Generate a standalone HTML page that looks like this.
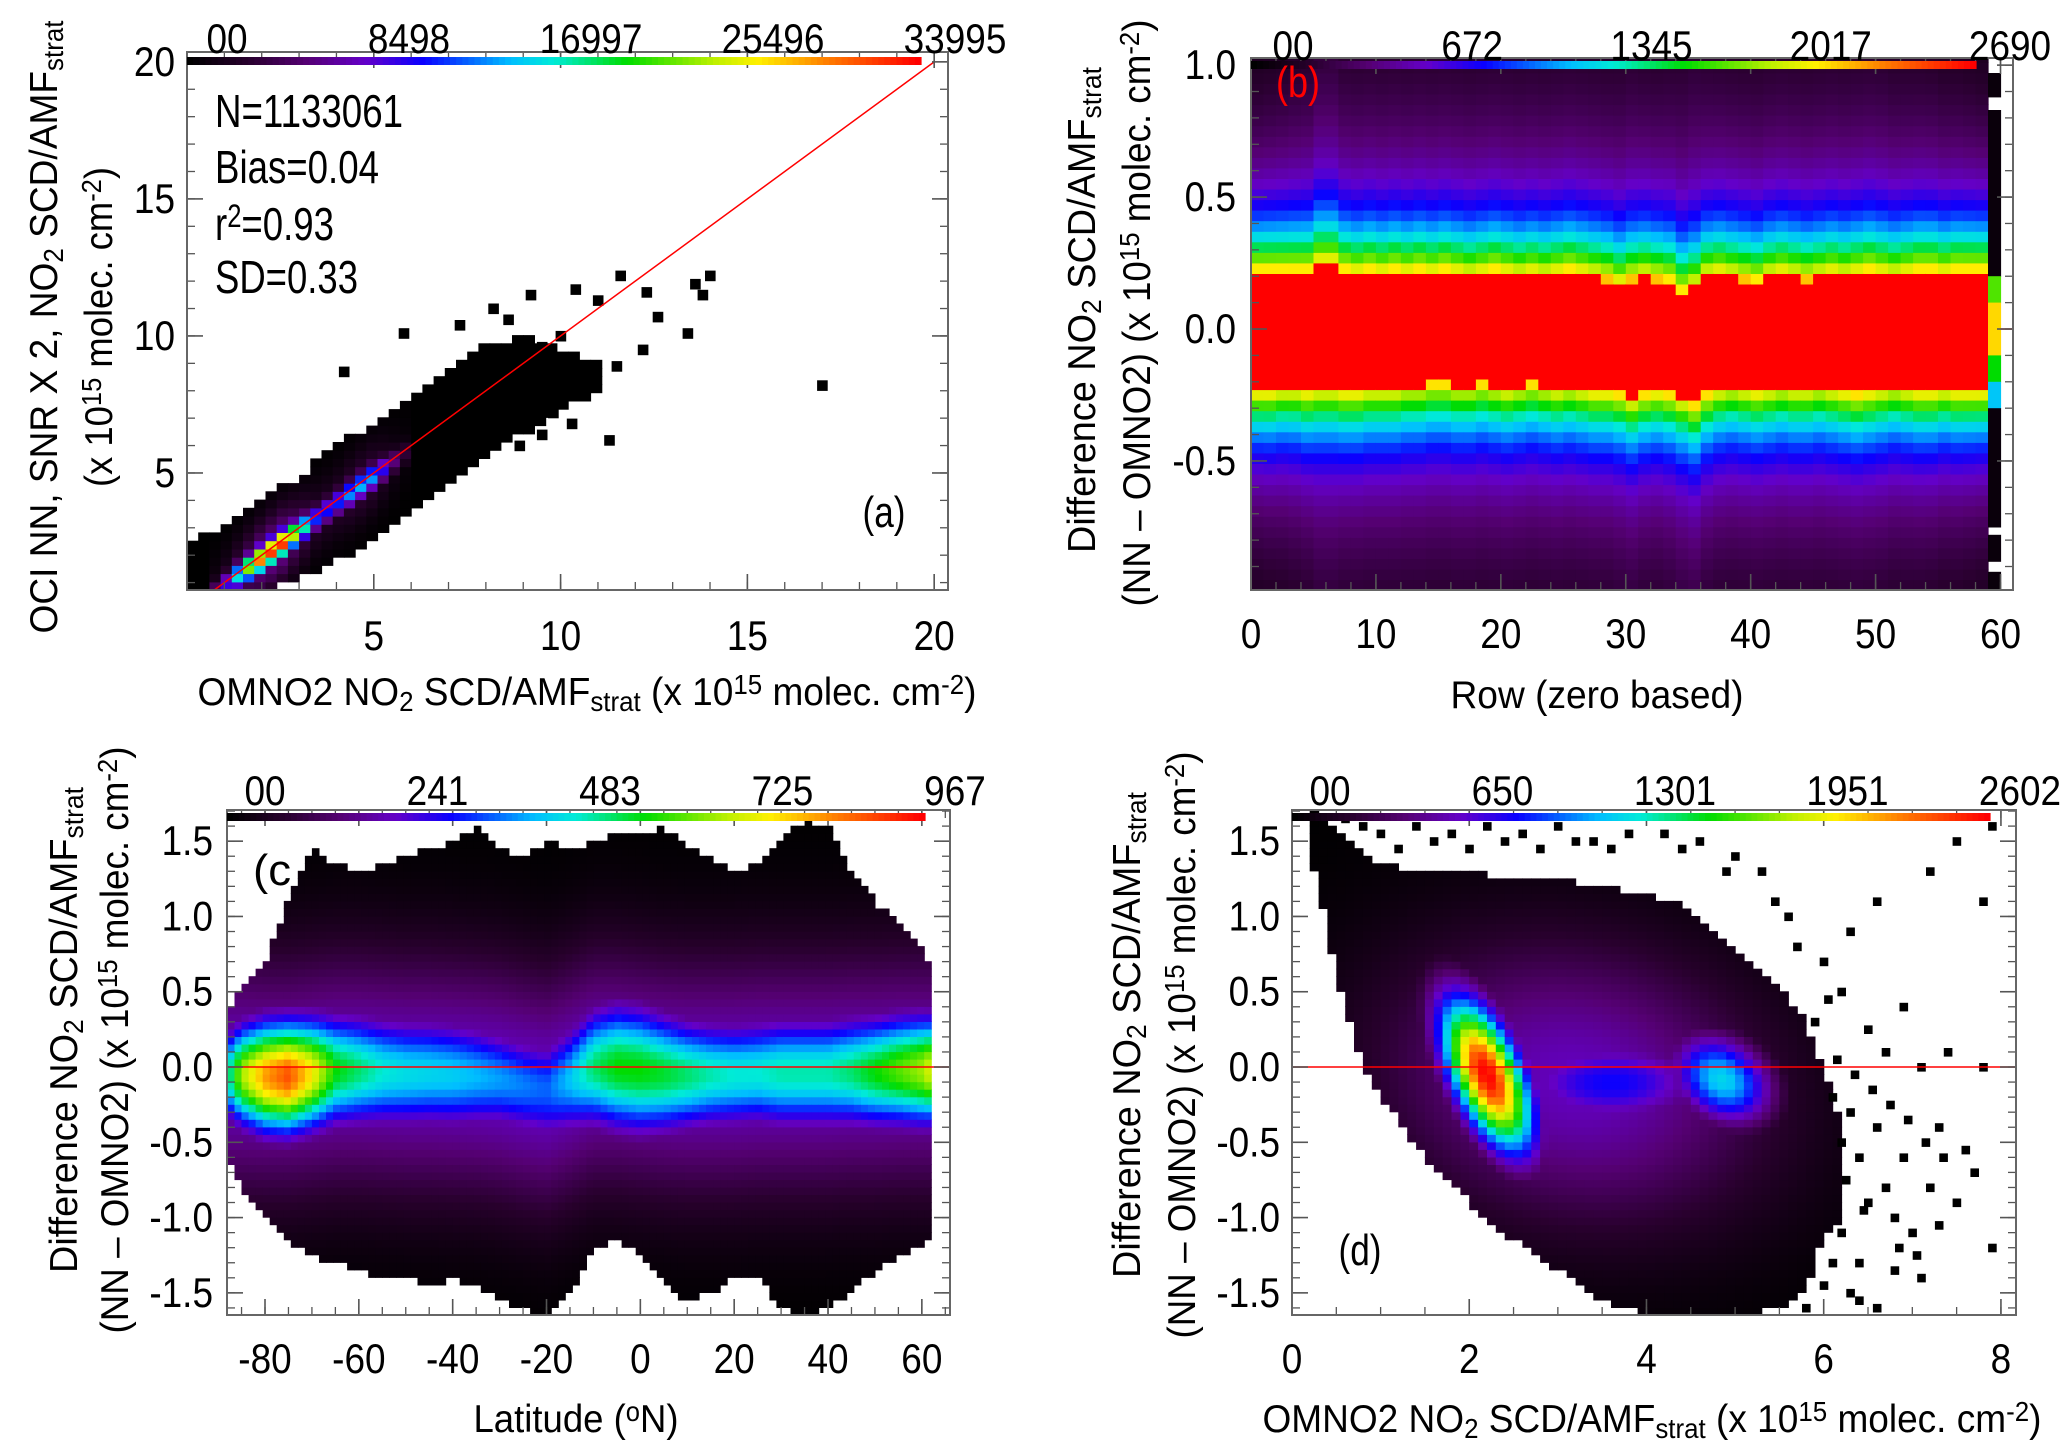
<!DOCTYPE html>
<html><head><meta charset="utf-8"><style>
html,body{margin:0;padding:0;background:#fff;}
svg{display:block;font-family:"Liberation Sans",sans-serif;}
</style></head><body>
<svg id="fig" width="2067" height="1455" viewBox="0 0 2067 1455" xmlns="http://www.w3.org/2000/svg"></svg>
<script>
// ---------- Panel (a) data ----------
const aX   = [0,0.5,1,1.5,2,3,4,5,6,7,8,9,10,11];
const aTop = [2.6,2.8,3.1,3.5,4.0,4.9,6.0,6.8,7.8,8.8,9.7,10.0,9.6,9.0];
const aBot = [0.9,0.8,0.7,0.7,0.75,1.1,1.8,2.6,3.6,4.6,5.6,6.4,7.2,8.0];
const aCoreX = [0.5,1,1.5,2,2.5,3,3.5,4,4.5,5,5.5,6];
const aCorePeak = [0.08,0.25,0.6,0.92,1.0,0.62,0.32,0.33,0.45,0.42,0.18,0.05];
const aPtX = [4.2,5.8,7.3,8.6,8.2,9.2,10.4,11.0,11.6,12.3,13.6,14.0,12.6,13.4,17.0,10.9,12.2,11.5,9.8,10.3,11.3,8.9,9.5,13.8,10.0,9.5];
const aPtY = [8.7,10.1,10.4,10.6,11.0,11.5,11.7,11.3,12.2,11.6,11.9,12.2,10.7,10.1,8.2,8.3,9.5,8.9,7.2,6.8,6.2,6.0,6.4,11.5,10.0,9.6];
const aStats = ["N=1133061","Bias=0.04","r²=0.93","SD=0.33"];
const aCbLabels = ["00","8498","16997","25496","33995"];

// ---------- Panel (b) data ----------
const bEdgeUp = [0.22,0.22,0.22,0.22,0.22,0.25,0.25,0.22,0.21,0.22,
 0.21,0.22,0.21,0.22,0.21,0.22,0.21,0.20,0.21,0.22,
 0.21,0.20,0.21,0.20,0.21,0.22,0.21,0.20,0.19,0.17,
 0.19,0.20,0.19,0.18,0.14,0.16,0.20,0.21,0.20,0.19,
 0.18,0.20,0.21,0.20,0.19,0.20,0.21,0.20,0.21,0.22,
 0.21,0.20,0.21,0.22,0.22,0.21,0.22,0.22,0.22];
const bEdgeLo = [-0.23,-0.23,-0.22,-0.22,-0.23,-0.22,-0.22,-0.23,-0.23,-0.22,
 -0.22,-0.22,-0.21,-0.21,-0.20,-0.20,-0.21,-0.21,-0.20,-0.21,
 -0.22,-0.21,-0.20,-0.21,-0.22,-0.21,-0.22,-0.23,-0.23,-0.24,
 -0.26,-0.24,-0.23,-0.24,-0.26,-0.28,-0.24,-0.22,-0.21,-0.22,
 -0.23,-0.22,-0.21,-0.22,-0.22,-0.21,-0.22,-0.23,-0.24,-0.23,
 -0.22,-0.21,-0.22,-0.23,-0.23,-0.22,-0.23,-0.23,-0.23];
const bSpread = [0.48,0.5,0.52,0.55,0.57,0.65,0.65,0.6,0.6,0.6,
 0.6,0.6,0.6,0.6,0.6,0.6,0.6,0.6,0.6,0.6,
 0.6,0.6,0.6,0.6,0.6,0.6,0.6,0.6,0.6,0.62,
 0.63,0.6,0.6,0.62,0.66,0.68,0.62,0.6,0.6,0.6,
 0.6,0.6,0.6,0.6,0.6,0.6,0.6,0.6,0.6,0.6,
 0.6,0.58,0.57,0.56,0.55,0.53,0.52,0.5,0.48];
const b59Lo  = [0.88,0.20,0.10,-0.10,-0.20,-0.30,-0.75,-0.88,-0.99];
const b59Hi  = [0.97,0.83,0.20,0.10,-0.10,-0.20,-0.30,-0.78,-0.92];
const b59Lev = [0.02,0.02,0.65,0.8,0.6,0.45,0.02,0.02,0.02];
const bCbLabels = ["00","672","1345","2017","2690"];

// ---------- Panel (c) data ----------
const cLat = [-88,-85,-80,-75,-70,-65,-60,-55,-50,-45,-40,-35,-30,-25,-20,-15,-10,-5,0,5,10,15,20,25,30,35,40,45,50,55,60,62];
const cTop = [0.35,0.55,0.7,1.1,1.45,1.35,1.3,1.35,1.4,1.45,1.5,1.6,1.45,1.4,1.5,1.45,1.5,1.55,1.55,1.6,1.45,1.4,1.3,1.35,1.5,1.65,1.6,1.3,1.1,0.95,0.8,0.65];
const cBot = [-0.6,-0.8,-1.0,-1.15,-1.25,-1.3,-1.35,-1.4,-1.4,-1.45,-1.4,-1.45,-1.55,-1.6,-1.65,-1.5,-1.2,-1.15,-1.25,-1.45,-1.55,-1.5,-1.4,-1.4,-1.6,-1.65,-1.6,-1.5,-1.35,-1.25,-1.2,-1.1];
const cPeak = [0.5,0.7,0.85,0.92,0.78,0.6,0.55,0.5,0.48,0.47,0.46,0.44,0.42,0.4,0.38,0.45,0.55,0.6,0.6,0.58,0.55,0.52,0.5,0.5,0.52,0.52,0.52,0.55,0.6,0.65,0.7,0.75];
const cCenter = [-0.05,-0.05,-0.06,-0.06,-0.04,-0.02,-0.02,-0.03,-0.04,-0.04,-0.05,-0.06,-0.08,-0.12,-0.15,-0.08,0.0,0.0,-0.02,-0.04,-0.05,-0.05,-0.05,-0.04,-0.04,-0.04,-0.04,-0.03,-0.03,-0.02,-0.02,-0.02];
const cWidth = [0.22,0.24,0.26,0.26,0.26,0.26,0.26,0.26,0.26,0.26,0.26,0.25,0.24,0.24,0.25,0.26,0.28,0.3,0.3,0.28,0.26,0.25,0.25,0.25,0.26,0.26,0.26,0.26,0.26,0.26,0.26,0.25];
const cCbLabels = ["00","241","483","725","967"];

// ---------- Panel (d) data ----------
const dX   = [0.25,0.4,0.6,0.8,1.0,1.5,2.0,2.5,3.0,3.5,4.0,4.5,5.0,5.5,5.8,6.0,6.2];
const dTop = [1.7,1.65,1.55,1.45,1.35,1.3,1.3,1.25,1.25,1.2,1.15,1.05,0.8,0.55,0.3,0.0,-0.4];
const dBot = [1.3,0.9,0.4,0.0,-0.2,-0.6,-0.9,-1.15,-1.35,-1.55,-1.65,-1.65,-1.65,-1.6,-1.5,-1.1,-1.0];
const dBlobX = [2.2,4.85,3.6,3.2];
const dBlobY = [-0.05,-0.08,-0.1,-0.1];
const dBlobAmp = [1.0,0.47,0.32,0.23];
const dBlobSX = [0.42,0.55,1.2,2.2];
const dBlobSY = [0.5,0.3,0.3,0.95];
const dBlobTilt = [0.6,0.5,0.0,0.3];
const dPtX = [6.1,6.2,6.3,6.4,6.5,6.6,6.2,6.4,6.7,6.8,6.9,7.0,7.2,7.3,7.5,7.7,7.9,6.5,6.7,6.9,7.1,7.4,7.8,6.2,6.0,6.3,6.6,7.2,7.5,7.8,7.9,5.6,5.3,5.0,4.6,4.2,3.8,3.4,3.0,2.6,2.2,1.8,1.4,1.0,0.6,6.3,6.0,5.8,7.1,6.6,
  6.15,6.35,6.55,6.75,6.95,7.15,7.35,7.6,6.25,6.45,6.85,7.05,5.9,6.05,5.7,5.45,4.9,4.4,3.6,3.2,2.8,2.4,2.0,1.6,1.2,0.8,6.1,6.4,6.8,7.3];
const dPtY = [-0.2,-0.5,-0.3,-0.6,-0.9,-0.4,-1.1,-1.3,-0.8,-1.0,-0.6,-1.1,-0.8,-0.4,-0.9,-0.7,-1.2,0.25,0.1,0.4,0.0,0.1,0.0,0.5,0.7,0.9,1.1,1.3,1.5,1.1,1.6,1.0,1.3,1.4,1.5,1.55,1.55,1.5,1.6,1.55,1.6,1.55,1.6,1.55,1.65,-1.5,-1.45,-1.6,-1.4,-1.6,
  0.05,-0.05,-0.15,-0.25,-0.35,-0.5,-0.6,-0.55,-0.75,-0.95,-1.2,-1.25,0.3,0.45,0.8,1.1,1.3,1.45,1.45,1.5,1.45,1.5,1.45,1.5,1.45,1.6,-1.3,-1.55,-1.35,-1.05];
const dCbLabels = ["00","650","1301","1951","2602"];

// ---------- helpers ----------
const STOPS=[[0,0,0,0],[0.08,40,0,45],[0.16,85,0,115],[0.24,100,0,200],[0.32,10,0,255],[0.44,0,190,255],[0.5,0,235,215],[0.6,0,220,0],[0.72,190,240,0],[0.78,255,240,0],[0.88,255,120,0],[1,255,0,0]];
function cmap(t){t=Math.max(0,Math.min(1,t));for(let i=1;i<STOPS.length;i++){if(t<=STOPS[i][0]){const a=STOPS[i-1],b=STOPS[i],f=(t-a[0])/(b[0]-a[0]);return `rgb(${Math.round(a[1]+f*(b[1]-a[1]))},${Math.round(a[2]+f*(b[2]-a[2]))},${Math.round(a[3]+f*(b[3]-a[3]))})`;}}return 'rgb(255,0,0)';}
function interp(xs,ys,x){if(x<xs[0]||x>xs[xs.length-1])return null;for(let i=1;i<xs.length;i++){if(x<=xs[i]){const f=(x-xs[i-1])/(xs[i]-xs[i-1]);return ys[i-1]+f*(ys[i]-ys[i-1]);}}return ys[ys.length-1];}
function mkPanel(px0,px1,py0,py1,xmin,xmax,ymin,ymax){return {px0,px1,py0,py1,xmin,xmax,ymin,ymax,
  sx:v=>px0+(v-xmin)/(xmax-xmin)*(px1-px0), sy:v=>py1-(v-ymin)/(ymax-ymin)*(py1-py0)};}
let out=[];
function rect(x,y,w,h,fill,name){out.push(`<rect x="${x.toFixed(1)}" y="${y.toFixed(1)}" width="${(w+0.6).toFixed(1)}" height="${(h+0.6).toFixed(1)}" fill="${fill}"/>`);}
function txt(x,y,inner,size,anchor,rot,name,len,fill){
  const tl=len?` textLength="${len}" lengthAdjust="spacingAndGlyphs"`:'';
  const sc=len?'':' scale(0.88,1)';
  out.push(`<text transform="translate(${x},${y}) rotate(${rot||0})${sc}" font-size="${size}" text-anchor="${anchor}" fill="${fill||'#000'}"${tl}>${inner}</text>`);}
const SUB=s=>`<tspan baseline-shift="-22%" font-size="70%">${s}</tspan>`;
const SUP=s=>`<tspan baseline-shift="40%" font-size="70%">${s}</tspan>`;
const UNITS=`(x 10${SUP('15')} molec. cm${SUP('-2')})`;
function axes(P,xMaj,xMin,xLab,yMaj,yMin,yLab,xLabY,yLabX,key){
  const st='stroke="#555"';
  for(const v of xMin){const x=P.sx(v);out.push(`<line x1="${x}" x2="${x}" y1="${P.py1}" y2="${P.py1-8}" ${st} stroke-width="1.3"/><line x1="${x}" x2="${x}" y1="${P.py0}" y2="${P.py0+8}" ${st} stroke-width="1.3"/>`);}
  for(const v of yMin){const y=P.sy(v);out.push(`<line x1="${P.px0}" x2="${P.px0+8}" y1="${y}" y2="${y}" ${st} stroke-width="1.3"/><line x1="${P.px1}" x2="${P.px1-8}" y1="${y}" y2="${y}" ${st} stroke-width="1.3"/>`);}
  xMaj.forEach((v,i)=>{const x=P.sx(v);out.push(`<line x1="${x}" x2="${x}" y1="${P.py1}" y2="${P.py1-16}" ${st} stroke-width="1.6"/><line x1="${x}" x2="${x}" y1="${P.py0}" y2="${P.py0+16}" ${st} stroke-width="1.6"/>`);txt(x,xLabY,xLab[i],42,'middle',0,key+'-x-tick-label');});
  yMaj.forEach((v,i)=>{const y=P.sy(v);out.push(`<line x1="${P.px0}" x2="${P.px0+16}" y1="${y}" y2="${y}" ${st} stroke-width="1.6"/><line x1="${P.px1}" x2="${P.px1-16}" y1="${y}" y2="${y}" ${st} stroke-width="1.6"/>`);txt(yLabX,y+14,yLab[i],42,'end',0,key+'-y-tick-label');});
  out.push(`<rect x="${P.px0}" y="${P.py0}" width="${P.px1-P.px0}" height="${P.py1-P.py0}" fill="none" stroke="#666" stroke-width="2"/>`);
}
function colorbar(x0,x1,y0,h,labels,lx0,lx1,ly,key){
  const n=120;for(let i=0;i<n;i++){const w=(x1-x0)/n;out.push(`<rect x="${(x0+i*w).toFixed(1)}" y="${y0}" width="${(w+0.6).toFixed(1)}" height="${h}" fill="${cmap(i/(n-1))}"/>`);}
  labels.forEach((l,i)=>txt(lx0+i*(lx1-lx0)/(labels.length-1),ly,l,42,'middle',0,key+'-colorbar-label'));
}
function range(a,b,s){const r=[];for(let v=a;v<=b+1e-9;v+=s)r.push(+v.toFixed(4));return r;}

// ================= Panel (a) =================
const PA=mkPanel(187,948,52,590,0,20.37,0.73,20.36);
{const step=0.3;
 for(let x=0;x<PA.xmax;x+=step){for(let y=PA.ymin;y<PA.ymax;y+=step){
  const cx=x+step/2,cy=y+step/2;const tp=interp(aX,aTop,cx),bt=interp(aX,aBot,cx);
  if(tp===null||cy>tp||cy<bt)continue;
  const pk=interp(aCoreX,aCorePeak,cx)||0;const d=(cy-(cx-0.1))/Math.SQRT2;
  const t=Math.max(pk*Math.exp(-Math.pow(d/0.33,2)),0.22*pk*Math.exp(-Math.pow(d/0.9,2)));
  const x0=PA.sx(x),x1=PA.sx(Math.min(x+step,PA.xmax)),y0=PA.sy(Math.min(y+step,PA.ymax)),y1=PA.sy(y);
  rect(x0,y0,x1-x0,y1-y0,cmap(t),'a-heat-cell');}}
 aPtX.forEach((px,i)=>{rect(PA.sx(px)-5,PA.sy(aPtY[i])-5,10,10,'#000','a-outlier-point');});
 const l0=PA.ymin, l1=20;
 out.push(`<line x1="${PA.sx(l0)}" y1="${PA.sy(l0)}" x2="${PA.sx(l1)}" y2="${PA.sy(l1)}" stroke="#ff0000" stroke-width="1.5"/>`);
}
axes(PA,[5,10,15,20],range(1,20,1),["5","10","15","20"],[5,10,15,20],range(1,20,1),["5","10","15","20"],650,175,'a');
colorbar(187,921,57,8,aCbLabels,227,955,53,'a');
const aStatY=[127,183,240,293],aStatLen=[188,164,119,143];
aStats.forEach((s,i)=>txt(215,aStatY[i],s.replace('²',SUP('2')),46,'start',0,'a-stat-text',aStatLen[i]));
txt(884,527,'(a)',44,'middle',0,'a-panel-label',43);
txt(587,705,`OMNO2 NO${SUB('2')} SCD/AMF${SUB('strat')} ${UNITS}`,39,'middle',0,'a-x-axis-title',779);
txt(57,327,`OCI NN, SNR X 2, NO${SUB('2')} SCD/AMF${SUB('strat')}`,39,'middle',-90,'a-y-axis-title',613);
txt(112,327,UNITS,39,'middle',-90,'a-y-axis-units',320);

// ================= Panel (b) =================
const PB=mkPanel(1251,2013,58,590,0,61,-0.989,1.027);
{const step=0.04;
 for(let c=0;c<59;c++){const up=bEdgeUp[c]??0.22,lo=bEdgeLo[c]??-0.22,sp=bSpread[c]??0.6;
  for(let y=PB.ymin;y<PB.ymax;y+=step){const cy=y+step/2;let t;
   if(cy<=up&&cy>=lo)t=1;else{const d=cy>up?cy-up:lo-cy;t=0.52*Math.exp(-d/0.18)+0.3*Math.exp(-d/sp);}
   const x0=PB.sx(c),x1=PB.sx(c+1),y0=PB.sy(Math.min(y+step,PB.ymax)),y1=PB.sy(y);
   rect(x0,y0,x1-x0,y1-y0,cmap(t),'b-heat-cell');}}
 b59Lo.forEach((lo,i)=>{const x0=PB.sx(59),x1=PB.sx(60),y0=PB.sy(b59Hi[i]),y1=PB.sy(lo);rect(x0,y0,x1-x0,y1-y0,cmap(b59Lev[i]),'b-edge-row-cell');});
 out.push(`<line x1="${PB.sx(60)}" x2="${PB.px1}" y1="${PB.sy(0)}" y2="${PB.sy(0)}" stroke="#ff0000" stroke-width="1.5"/>`);
}
axes(PB,[0,10,20,30,40,50,60],range(0,60,2),["0","10","20","30","40","50","60"],[-0.5,0,0.5,1.0],range(-0.9,1.0,0.1),["-0.5","0.0","0.5","1.0"],648,1236,'b');
colorbar(1251,1976,61,8,bCbLabels,1293,2010,60,'b');
txt(1298,97,'(b)',44,'middle',0,'b-panel-label',44,'#ff0000');
txt(1597,708,'Row (zero based)',39,'middle',0,'b-x-axis-title',293);
txt(1095,310,`Difference NO${SUB('2')} SCD/AMF${SUB('strat')}`,39,'middle',-90,'b-y-axis-title',486);
txt(1150,313,`(NN – OMNO2) ${UNITS}`,39,'middle',-90,'b-y-axis-units',587);

// ================= Panel (c) =================
const PC=mkPanel(227,950,810,1315,-88.1,66.0,-1.647,1.707);
{const sx=1.5,sy=0.05;
 for(let x=-88;x<62.5;x+=sx){const cx=x+sx/2;const tp=interp(cLat,cTop,cx),bt=interp(cLat,cBot,cx);if(tp===null)continue;
  const pk=interp(cLat,cPeak,cx),ce=interp(cLat,cCenter,cx),w=interp(cLat,cWidth,cx);
  for(let y=PC.ymin;y<PC.ymax;y+=sy){const cy=y+sy/2;if(cy>tp||cy<bt)continue;
   const t=Math.max(pk*Math.exp(-0.5*Math.pow((cy-ce)/w,2)),0.24*Math.exp(-Math.pow((cy-ce)/0.8,2)));
   const x0=PC.sx(x),x1=PC.sx(x+sx),y0=PC.sy(Math.min(y+sy,PC.ymax)),y1=PC.sy(y);
   rect(x0,y0,x1-x0,y1-y0,cmap(t),'c-heat-cell');}}
 out.push(`<line x1="${PC.px0}" x2="${PC.px1}" y1="${PC.sy(0)}" y2="${PC.sy(0)}" stroke="#ff0000" stroke-width="1.5"/>`);
}
axes(PC,[-80,-60,-40,-20,0,20,40,60],range(-85,65,5),["-80","-60","-40","-20","0","20","40","60"],[-1.5,-1,-0.5,0,0.5,1,1.5],range(-1.6,1.7,0.1),["-1.5","-1.0","-0.5","0.0","0.5","1.0","1.5"],1373,213,'c');
colorbar(227,925,813,8,cCbLabels,265,955,805,'c');
txt(272,885,'(c',44,'middle',0,'c-panel-label',38);
txt(576,1432,'Latitude (<tspan baseline-shift="40%" font-size="70%">o</tspan>N)',39,'middle',0,'c-x-axis-title',205);
txt(77,1030,`Difference NO${SUB('2')} SCD/AMF${SUB('strat')}`,39,'middle',-90,'c-y-axis-title',486);
txt(128,1040,`(NN – OMNO2) ${UNITS}`,39,'middle',-90,'c-y-axis-units',587);

// ================= Panel (d) =================
const PD=mkPanel(1292,2016,810,1315,0,8.17,-1.647,1.707);
{const sx=0.1,sy=0.05;
 for(let x=0;x<8.1;x+=sx){const cx=x+sx/2;const tp=interp(dX,dTop,cx),bt=interp(dX,dBot,cx);if(tp===null)continue;
  for(let y=PD.ymin;y<PD.ymax;y+=sy){const cy=y+sy/2;if(cy>tp||cy<bt)continue;
   let t=0;dBlobX.forEach((bx,i)=>{const xp=(cx-bx)+dBlobTilt[i]*(cy-dBlobY[i]);const yp=cy-dBlobY[i];
     t=Math.max(t,dBlobAmp[i]*Math.exp(-Math.pow(xp/dBlobSX[i],2)-Math.pow(yp/dBlobSY[i],2)));});
   const x0=PD.sx(x),x1=PD.sx(x+sx),y0=PD.sy(Math.min(y+sy,PD.ymax)),y1=PD.sy(y);
   rect(x0,y0,x1-x0,y1-y0,cmap(t),'d-heat-cell');}}
 dPtX.forEach((px,i)=>{rect(PD.sx(px)-4,PD.sy(dPtY[i])-4,8,8,'#000','d-outlier-point');});
 out.push(`<line x1="${PD.px0}" x2="${PD.px1}" y1="${PD.sy(0)}" y2="${PD.sy(0)}" stroke="#ff0000" stroke-width="1.5"/>`);
}
axes(PD,[0,2,4,6,8],range(0,8,0.5),["0","2","4","6","8"],[-1.5,-1,-0.5,0,0.5,1,1.5],range(-1.6,1.7,0.1),["-1.5","-1.0","-0.5","0.0","0.5","1.0","1.5"],1373,1280,'d');
colorbar(1292,1990,813,8,dCbLabels,1330,2020,805,'d');
txt(1360,1265,'(d)',44,'middle',0,'d-panel-label',43);
txt(1652,1432,`OMNO2 NO${SUB('2')} SCD/AMF${SUB('strat')} ${UNITS}`,39,'middle',0,'d-x-axis-title',779);
txt(1140,1035,`Difference NO${SUB('2')} SCD/AMF${SUB('strat')}`,39,'middle',-90,'d-y-axis-title',486);
txt(1195,1045,`(NN – OMNO2) ${UNITS}`,39,'middle',-90,'d-y-axis-units',587);

document.getElementById('fig').innerHTML=out.join('');
</script>
</body></html>
